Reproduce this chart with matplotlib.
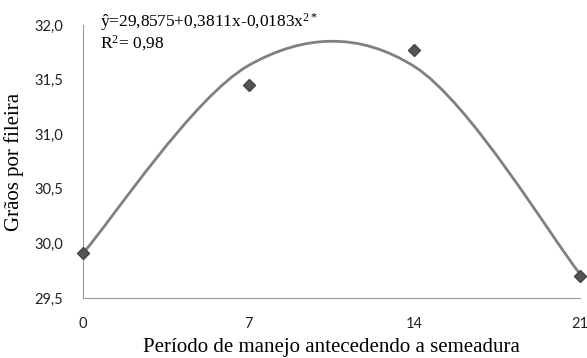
import matplotlib
matplotlib.use("Agg")
import matplotlib.pyplot as plt
from matplotlib.path import Path
from matplotlib.patches import PathPatch
from matplotlib.ticker import FuncFormatter

plt.rcParams["mathtext.fontset"] = "custom"
plt.rcParams["mathtext.rm"] = "Liberation Serif"
plt.rcParams["mathtext.it"] = "Liberation Serif:italic"

# observed means
dias = [0, 7, 14, 21]
graos = [29.91, 31.45, 31.77, 29.70]

# points the smoothed regression line passes through
curva_x = [0, 7, 14, 21]
curva_y = [29.91, 31.63, 31.62, 29.72]

xticks = [0, 7, 14, 21]
yticks = [29.5, 30.0, 30.5, 31.0, 31.5, 32.0]


def smooth_path(xs, ys):
  # Catmull-Rom style bezier (like a spreadsheet "smoothed line")
  pts = list(zip(xs, ys))
  verts = [pts[0]]
  codes = [Path.MOVETO]
  n = len(pts)
  for i in range(n - 1):
    p0 = pts[i - 1] if i > 0 else pts[i]
    p1, p2 = pts[i], pts[i + 1]
    p3 = pts[i + 2] if i + 2 < n else pts[i + 1]
    c1 = (p1[0] + (p2[0] - p0[0]) / 6, p1[1] + (p2[1] - p0[1]) / 6)
    c2 = (p2[0] - (p3[0] - p1[0]) / 6, p2[1] - (p3[1] - p1[1]) / 6)
    verts += [c1, c2, p2]
    codes += [Path.CURVE4] * 3
  return Path(verts, codes)


fig = plt.figure(figsize=(5.87, 3.58), dpi=100)
ax = fig.add_axes([83 / 587, 1 - 298 / 358, 497 / 587, 273 / 358])

ax.add_patch(PathPatch(smooth_path(curva_x, curva_y), facecolor="none",
                       edgecolor="#808080", lw=2.0, capstyle="round",
                       clip_on=False, zorder=2))
ax.plot(dias, graos, linestyle="none", marker="D", markersize=6,
        color="#555555", markeredgecolor="#444444", clip_on=False, zorder=3)

ax.set_xlim(0, 21)
ax.set_ylim(29.5, 32.0)
ax.set_xticks(xticks)
ax.set_yticks(yticks)
ax.yaxis.set_major_formatter(FuncFormatter(lambda v, p: f"{v:.1f}".replace(".", ",")))

for s in ["top", "right"]:
  ax.spines[s].set_visible(False)
for s in ["left", "bottom"]:
  ax.spines[s].set_color("#999999")
  ax.spines[s].set_linewidth(0.8)
ax.tick_params(length=0, labelsize=10.5, colors="#222222")
for lab in ax.get_xticklabels() + ax.get_yticklabels():
  lab.set_family("Lato")
ax.tick_params(axis="x", pad=14)
ax.tick_params(axis="y", pad=14)

ax.set_xlabel("Período de manejo antecedendo a semeadura",
              family="Liberation Serif", fontsize=15, labelpad=5)
ax.set_ylabel("Grãos por fileira", family="Liberation Serif",
              fontsize=15, labelpad=8)

ax.text(0.035, 1.05, "ŷ=29,8575+0,3811x-0,0183x$^{2*}$\nR$^{2}$= 0,98",
        transform=ax.transAxes, family="Liberation Serif", fontsize=12.5,
        va="top", ha="left", linespacing=1.0)

fig.savefig("out.png", dpi=100)
